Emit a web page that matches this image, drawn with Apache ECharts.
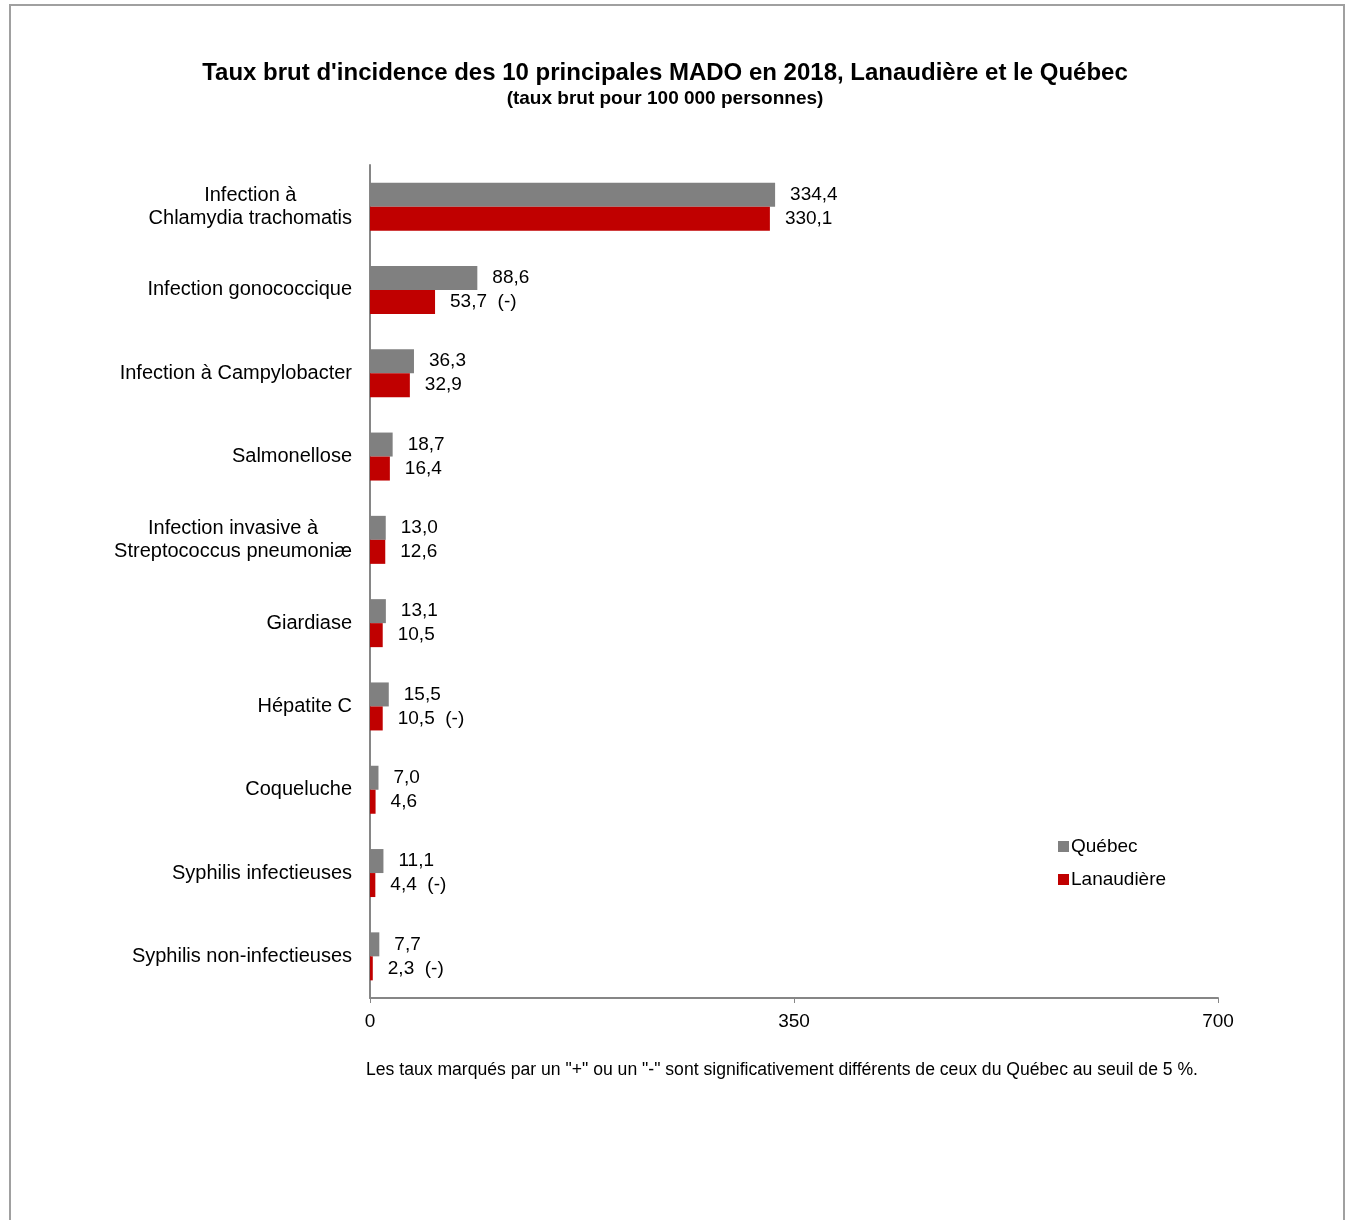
<!DOCTYPE html>
<html>
<head>
<meta charset="utf-8">
<script src="https://cdn.jsdelivr.net/npm/echarts@6/dist/echarts.min.js"></script>
<style>
  html, body { margin: 0; padding: 0; background: #fff; }
</style>
</head>
<body>
<div id="main" style="width:1347px;height:1220px;"></div>
<script type="text/javascript">
// categories (top to bottom)
var categories = [
    'Infection à\nChlamydia trachomatis',
    'Infection gonococcique',
    'Infection à Campylobacter',
    'Salmonellose',
    'Infection invasive à\nStreptococcus pneumoniæ',
    'Giardiase',
    'Hépatite C',
    'Coqueluche',
    'Syphilis infectieuses',
    'Syphilis non-infectieuses'
];
var quebec = [334.4, 88.6, 36.3, 18.7, 13.0, 13.1, 15.5, 7.0, 11.1, 7.7];
var lanaudiere = [330.1, 53.7, 32.9, 16.4, 12.6, 10.5, 10.5, 4.6, 4.4, 2.3];
// marqueurs de signification pour Lanaudière
var lanaudiereFlags = ['', '(-)', '', '', '', '', '(-)', '', '(-)', '(-)'];
var xTicks = [0, 350, 700];

var FONT = '"Liberation Sans", Arial, sans-serif';
var FS = 19;

function fmt(v) {
    return v.toFixed(1).replace('.', ',');
}

var myChart = echarts.init(document.getElementById('main'));

var option = {
    backgroundColor: '#ffffff',
    textStyle: { fontFamily: FONT },
    title: {
        text: "Taux brut d'incidence des 10 principales MADO en 2018, Lanaudière et le Québec",
        subtext: '(taux brut pour 100 000 personnes)',
        left: 660,
        top: 56,
        textAlign: 'center',
        itemGap: 4,
        textStyle: { fontFamily: FONT, fontSize: 24, fontWeight: 'bold', color: '#000' },
        subtextStyle: { fontFamily: FONT, fontSize: 19, fontWeight: 'bold', color: '#000' }
    },
    legend: {
        orient: 'vertical',
        left: 1053,
        top: 832,
        itemWidth: 11,
        itemHeight: 11,
        itemGap: 14,
        icon: 'rect',
        data: ['Québec', 'Lanaudière'],
        textStyle: { fontFamily: FONT, fontSize: FS, color: '#000', padding: [0, 0, 0, -3] }
    },
    grid: {
        left: 370,
        right: 129,
        top: 165,
        bottom: 222,
        containLabel: false
    },
    xAxis: {
        type: 'value',
        min: 0,
        max: 700,
        interval: 350,
        axisLine: { show: true, lineStyle: { color: '#868686', width: 2 } },
        axisTick: { show: true, length: 5, lineStyle: { color: '#868686' } },
        splitLine: { show: false },
        axisLabel: {
            margin: 14,
            fontFamily: FONT,
            fontSize: FS,
            color: '#000',
            formatter: function (v) { return xTicks.indexOf(v) >= 0 ? String(v) : ''; }
        }
    },
    yAxis: {
        type: 'category',
        inverse: true,
        data: categories,
        axisLine: { show: true, lineStyle: { color: '#868686', width: 2 } },
        axisTick: { show: false },
        axisLabel: {
            margin: 18,
            align: 'right',
            fontFamily: FONT,
            fontSize: 20,
            color: '#000',
            lineHeight: 23,
            formatter: function (v) {
                return v.split('\n').map(function (s) { return '{c|' + s + '}'; }).join('\n');
            },
            rich: {
                c: { align: 'center', fontFamily: FONT, fontSize: 20, color: '#000', lineHeight: 23 }
            }
        }
    },
    series: [
        {
            name: 'Québec',
            type: 'bar',
            data: quebec,
            barWidth: 24,
            barGap: '0%',
            itemStyle: { color: '#808080' },
            label: {
                show: true,
                position: 'right',
                distance: 15,
                fontFamily: FONT,
                fontSize: FS,
                color: '#000',
                formatter: function (p) { return fmt(p.value); }
            }
        },
        {
            name: 'Lanaudière',
            type: 'bar',
            data: lanaudiere,
            barWidth: 24,
            barGap: '0%',
            itemStyle: { color: '#c00000' },
            label: {
                show: true,
                position: 'right',
                distance: 15,
                fontFamily: FONT,
                fontSize: FS,
                color: '#000',
                formatter: function (p) {
                    var f = lanaudiereFlags[p.dataIndex];
                    return fmt(p.value) + (f ? '  ' + f : '');
                }
            }
        }
    ],
    graphic: [
        {
            type: 'rect',
            shape: { x: 10, y: 5, width: 1334, height: 1240 },
            style: { fill: 'none', stroke: '#a0a0a0', lineWidth: 2 },
            silent: true
        },
        {
            type: 'text',
            left: 366,
            top: 1061,
            style: {
                text: 'Les taux marqués par un "+" ou un "-" sont significativement différents de ceux du Québec au seuil de 5 %.',
                fontFamily: FONT,
                fontSize: 17.6,
                fill: '#000'
            }
        }
    ]
};

myChart.setOption(option);
</script>
</body>
</html>
